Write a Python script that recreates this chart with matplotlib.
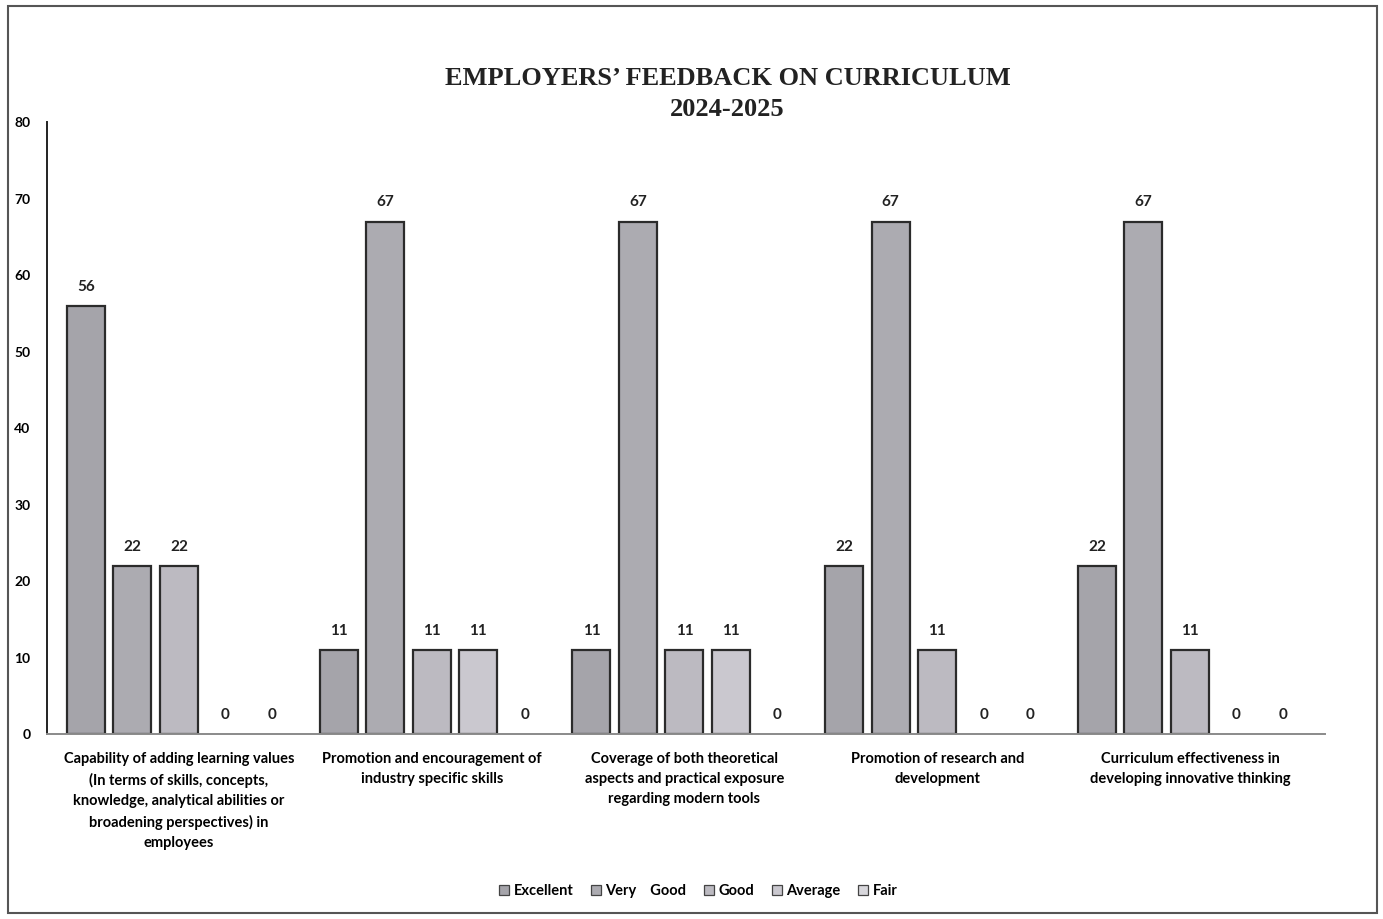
import matplotlib.pyplot as plt
import matplotlib.patches as patches
import numpy as np

# 数据
categories = ['Capability of adding learning values\n(In terms of skills, concepts,\nknowledge, analytical abilities or\nbroadening perspectives) in\nemployees',
              'Promotion and encouragement of\nindustry specific skills',
              'Coverage of both theoretical\naspects and practical exposure\nregarding modern tools',
              'Promotion of research and\ndevelopment',
              'Curriculum effectiveness in\ndeveloping innovative thinking']
series_names = ['Excellent', 'Very    Good', 'Good', 'Average', 'Fair']
excellent = [56, 11, 11, 22, 22]
very_good = [22, 67, 67, 67, 67]
good = [22, 11, 11, 11, 11]
average = [0, 11, 11, 0, 0]
fair = [0, 0, 0, 0, 0]
y_ticks = [0, 10, 20, 30, 40, 50, 60, 70, 80]

colors = ['#a5a4aa', '#acabb1', '#bcbac1', '#cac8cf', '#d8d7dc']
lab_font = 'Lato'

fig = plt.figure(figsize=(13.83, 9.19), dpi=100)
ax = fig.add_axes([0.034, 0.201, 0.924, 0.666])

x = np.arange(len(categories))
step = 0.184
width = 0.150
all_series = [excellent, very_good, good, average, fair]
for i, vals in enumerate(all_series):
    pos = x + (i - 2) * step
    lw = [1.6 if v > 0 else 0 for v in vals]
    bars = ax.bar(pos, vals, width=width, color=colors[i], edgecolor='#2b2b2b',
                  linewidth=lw, label=series_names[i])
    for b, v in zip(bars, vals):
        ax.text(b.get_x() + b.get_width() / 2, v + 1.6, str(v), ha='center', va='bottom',
                fontsize=11, fontweight='bold', family=lab_font, color='#222222')

ax.set_xlim(-0.522, 4.534)
ax.set_ylim(0, 80)
ax.set_yticks(y_ticks)
ax.set_yticklabels([str(t) for t in y_ticks], fontsize=10, fontweight='bold', family=lab_font)
ax.tick_params(axis='y', length=0, pad=12)
ax.set_xticks(x)
ax.set_xticklabels(categories, fontsize=10.5, fontweight='bold', family=lab_font, linespacing=1.55)
ax.tick_params(axis='x', length=0, pad=13)
for s in ['top', 'right']:
    ax.spines[s].set_visible(False)
ax.spines['left'].set_color('#222222')
ax.spines['left'].set_linewidth(1.4)
ax.spines['bottom'].set_color('#8a8a8a')
ax.spines['bottom'].set_linewidth(1.4)

# 标题
fig.text(0.526, 0.898, "EMPLOYERS’ FEEDBACK ON CURRICULUM\n2024-2025", ha='center', va='center',
         fontsize=19, fontweight='bold', family='Liberation Serif', color='#222222', linespacing=1.45)

# 图例
leg = fig.legend(loc='center', bbox_to_anchor=(0.505, 0.03), ncol=5, frameon=False,
                 prop=dict(family=lab_font, weight='bold', size=10.5), handlelength=0.7,
                 handleheight=0.7, handletextpad=0.3, columnspacing=1.2)
for h in leg.legend_handles:
    h.set_linewidth(0.9)
    h.set_edgecolor('#444444')

# 外框
fig.patches.append(patches.Rectangle((0.006, 0.006), 0.99, 0.988, transform=fig.transFigure,
                                     fill=False, edgecolor='#555555', linewidth=1.5))

fig.savefig('out.png', dpi=100)
